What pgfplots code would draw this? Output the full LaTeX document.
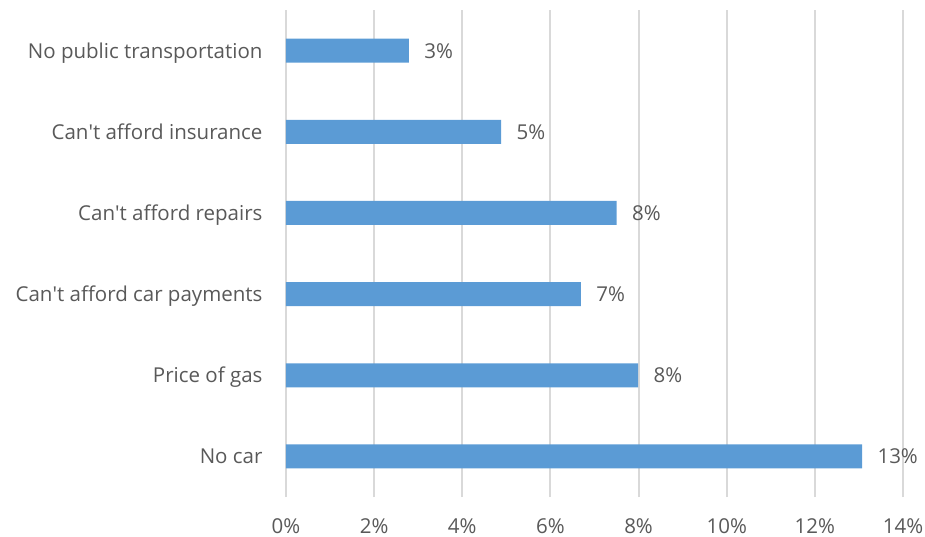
\documentclass[border=0pt]{standalone}
\usepackage{fontspec}
\setmainfont{Open Sans}
\usepackage{pgfplots}
\usepackage{pgfplotstable}
\pgfplotsset{compat=1.18}
\definecolor{barblue}{HTML}{5B9BD5}
\definecolor{txt}{HTML}{595959}
\definecolor{gridgray}{HTML}{D9D9D9}
\pgfplotstableread{
y x lab
0 13.07 13
1 7.99 8
2 6.69 7
3 7.50 8
4 4.88 5
5 2.79 3
}\datatab
\begin{document}
\begin{tikzpicture}
\begin{axis}[
  at={(0,0)}, anchor=south west,
  scale only axis,
  width=617bp, height=487bp,
  xmin=0, xmax=14, ymin=-0.5, ymax=5.5,
  axis line style={draw=none},
  xmajorgrids, ymajorgrids=false,
  major grid style={draw=gridgray, line width=2bp},
  major tick length=0pt, tick style={draw=none},
  xtick={0,2,...,14},
  xticklabels={0\%,2\%,4\%,6\%,8\%,10\%,12\%,14\%},
  ytick={0,...,5},
  yticklabels={No car,Price of gas,Can\textquotesingle t afford car payments,Can\textquotesingle t afford repairs,Can\textquotesingle t afford insurance,No public transportation},
  ticklabel style={font=\fontsize{20.5bp}{24bp}\selectfont, text=txt},
  xticklabel style={yshift=-18bp},
  yticklabel style={anchor=base east, xshift=-20bp, yshift=-7.5bp},
  xbar, bar width=24bp,
  nodes near coords={\pgfplotspointmeta\%},
  point meta=explicit symbolic,
  every node near coord/.append style={font=\fontsize{20.5bp}{24bp}\selectfont, text=txt, anchor=base west, xshift=12bp, yshift=-7.5bp},
]
\addplot[fill=barblue, draw=none] table[x=x, y=y, meta=lab] {\datatab};
\end{axis}
\pgfresetboundingbox
\path[use as bounding box] (-286bp,-40bp) rectangle (639bp,497bp);
\end{tikzpicture}
\end{document}
